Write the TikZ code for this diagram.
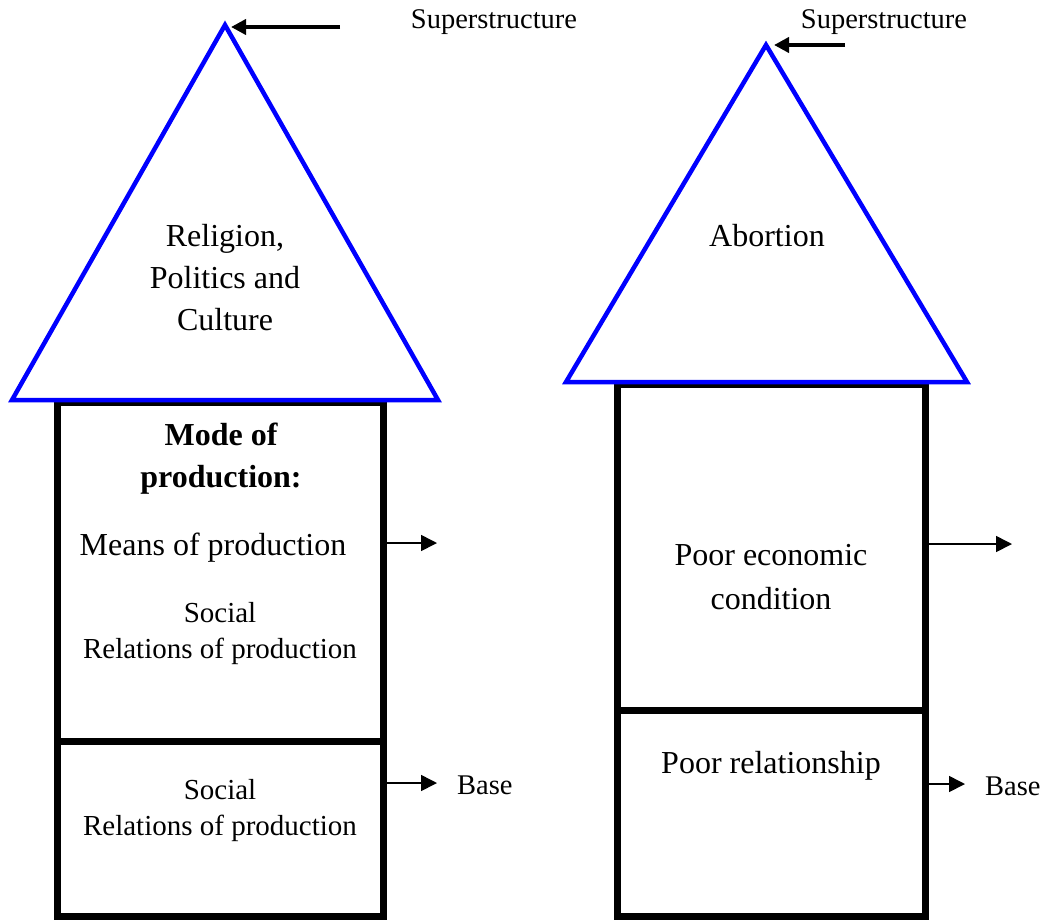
\documentclass[tikz,border=0pt]{standalone}
\usepackage{fontspec}
\setmainfont{Liberation Serif}
\usetikzlibrary{arrows.meta}
\begin{document}
\begin{tikzpicture}[x=1pt,y=-1pt,
  roof/.style={draw=blue, line width=4.5pt, line join=miter},
  wall/.style={draw=black, line width=7pt},
  txt/.style={align=center, inner sep=0pt, font=\fontsize{32}{42}\selectfont},
  smalltxt/.style={align=center, inner sep=0pt, font=\fontsize{29}{36}\selectfont},
  lbl/.style={inner sep=0pt, font=\fontsize{28.5}{34}\selectfont},
  toparrow/.style={line width=4pt, -{Triangle[length=15pt,width=15pt]}},
  sidearrow/.style={line width=1.6pt, -{Triangle[length=16pt,width=16pt]}}]
\useasboundingbox (0,0) rectangle (1051,919);

% ---------- left house ----------
\coordinate (LA) at (225,25);
\coordinate (LBl) at (12,400);
\coordinate (LBr) at (438,400);
\draw[wall] (57,402) rectangle (383,916);
\draw[wall] (57,741) -- (383,741);
\draw[roof] (LA) -- (LBl) -- (LBr) -- cycle;

\node[txt] (lroof) at (225,278) {Religion,\\Politics and\\Culture};
\node[txt, font=\fontsize{32}{42}\selectfont\bfseries] (mode) at (221,459) {Mode of\\production:};
\node[txt] (means) at (213,548) {Means of production};
\node[smalltxt] (rel1) at (220,634) {Social\\Relations of production};
\node[smalltxt] (rel2) at (220,811) {Social\\Relations of production};

\node[lbl] (lsup) at (494,22) {Superstructure};
\coordinate (lsupS) at (340,27);
\coordinate (lsupE) at (231,27);
\draw[toparrow] (lsupS) -- (lsupE);

\coordinate (lmidS) at (386,543);
\coordinate (lmidE) at (437,543);
\draw[sidearrow] (lmidS) -- (lmidE);

\coordinate (lbaseS) at (386,783);
\coordinate (lbaseE) at (437,783);
\draw[sidearrow] (lbaseS) -- (lbaseE);
\node[lbl, anchor=west] (lbase) at (457,785) {Base};

% ---------- right house ----------
\coordinate (RA) at (766,45);
\coordinate (RBl) at (566,382);
\coordinate (RBr) at (967,382);
\draw[wall] (617,384) rectangle (925,916);
\draw[wall] (617,710) -- (925,710);
\draw[roof] (RA) -- (RBl) -- (RBr) -- cycle;

\node[txt] (rroof) at (767,236) {Abortion};
\node[txt, font=\fontsize{32}{44}\selectfont] (econ) at (771,577) {Poor economic\\condition};
\node[txt] (relship) at (771,766) {Poor relationship};

\node[lbl] (rsup) at (884,22) {Superstructure};
\coordinate (rsupS) at (845,45);
\coordinate (rsupE) at (774,45);
\draw[toparrow] (rsupS) -- (rsupE);

\coordinate (rmidS) at (928,544);
\coordinate (rmidE) at (1012,544);
\draw[sidearrow] (rmidS) -- (rmidE);

\coordinate (rbaseS) at (928,784);
\coordinate (rbaseE) at (965,784);
\draw[sidearrow] (rbaseS) -- (rbaseE);
\node[lbl, anchor=west] (rbase) at (985,786) {Base};
\end{tikzpicture}
\end{document}
